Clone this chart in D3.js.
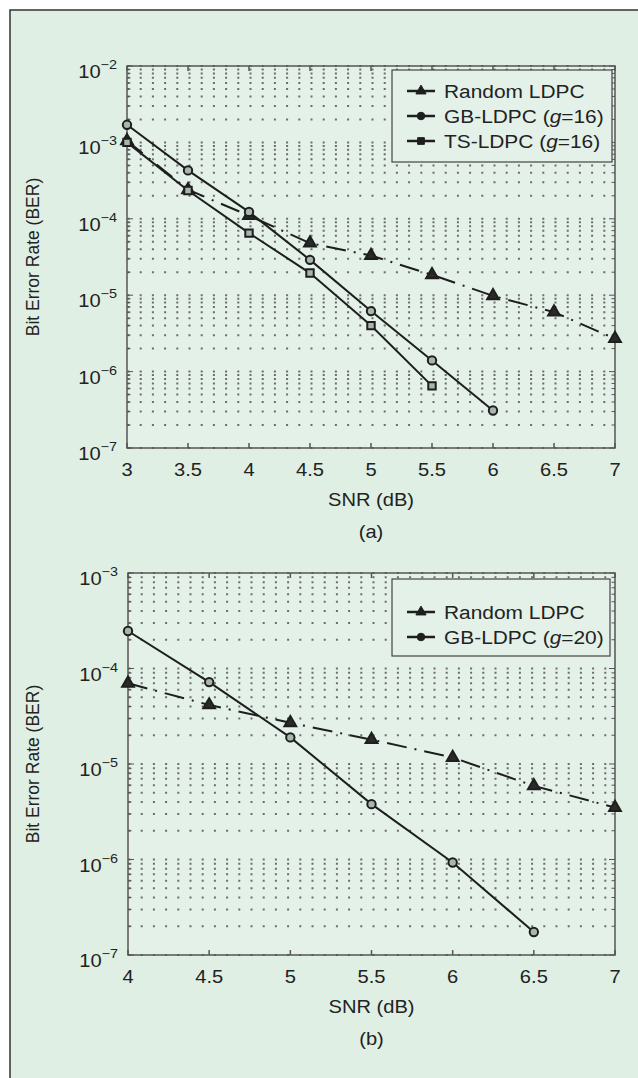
<!DOCTYPE html>
<html>
<head>
<meta charset="utf-8">
<title>BER vs SNR</title>
<script src="https://d3js.org/d3.v7.min.js"></script>
<style>
  * { margin: 0; padding: 0; }
  body { background: #fff; }
  svg { display: block; }
  text { font-family: "Liberation Sans", Arial, Helvetica, sans-serif; fill: #222; }
</style>
</head>
<body>
<div id="chart"></div>
<script>
// ---- data ----
const snrA = [3, 3.5, 4, 4.5, 5, 5.5, 6, 6.5, 7];
const randomA = [1.05e-3, 2.4e-4, 1.1e-4, 4.8e-5, 3.3e-5, 1.85e-5, 9.8e-6, 6.0e-6, 2.7e-6];
const gbA = [1.7e-3, 4.3e-4, 1.23e-4, 2.9e-5, 6.2e-6, 1.4e-6, 3.1e-7];
const tsA = [1.0e-3, 2.35e-4, 6.5e-5, 1.95e-5, 4.0e-6, 6.5e-7];

const snrB = [4, 4.5, 5, 5.5, 6, 6.5, 7];
const randomB = [7.0e-5, 4.15e-5, 2.7e-5, 1.8e-5, 1.17e-5, 5.9e-6, 3.5e-6];
const gbB = [2.47e-4, 7.2e-5, 1.9e-5, 3.8e-6, 9.3e-7, 1.74e-7];

const xTicksA = [3, 3.5, 4, 4.5, 5, 5.5, 6, 6.5, 7];
const xTicksB = [4, 4.5, 5, 5.5, 6, 6.5, 7];
const legendA = ["Random LDPC", "GB-LDPC", "TS-LDPC"];
const legendB = ["Random LDPC", "GB-LDPC"];

const W = 638, H = 1078;
const SX = 1.15; // figure text is a little wide

const svg = d3.select("#chart").append("svg")
  .attr("width", W).attr("height", H);

// outer frame
svg.append("rect").attr("x", 10).attr("y", 10)
  .attr("width", W + 50).attr("height", H + 50)
  .attr("fill", "#e0efe3").attr("stroke", "#333").attr("stroke-width", 1.5);

function wideText(g, x, y, str, size, anchor) {
  return g.append("text")
    .attr("transform", `translate(${x},${y}) scale(${SX},1)`)
    .attr("text-anchor", anchor || "middle")
    .attr("font-size", size)
    .text(str);
}

function styleFor(name) {
  if (name.startsWith("Random")) return { sym: d3.symbolTriangle, size: 60, dash: "20,8,2,8", fill: "#2a2a2a" };
  if (name.startsWith("GB")) return { sym: d3.symbolCircle, size: 55, dash: null, fill: "#a9b6ad" };
  return { sym: d3.symbolSquare, size: 55, dash: null, fill: "#a9b6ad" };
}

function panel(cfg) {
  const g = svg.append("g");
  const x = d3.scaleLinear().domain(cfg.xDomain).range([cfg.left, cfg.right]);
  const y = d3.scaleLog().domain(cfg.yDomain).range([cfg.bottom, cfg.top]);

  g.append("rect").attr("x", cfg.left).attr("y", cfg.top)
    .attr("width", cfg.right - cfg.left).attr("height", cfg.bottom - cfg.top)
    .attr("fill", "#e4f1e8");

  // dotted grid (major + minor decades)
  const yAll = y.ticks();
  g.append("g").selectAll("line").data(yAll).join("line")
    .attr("x1", cfg.left).attr("x2", cfg.right)
    .attr("y1", d => y(d)).attr("y2", d => y(d))
    .attr("stroke", "#6c6c6c").attr("stroke-width", 2)
    .attr("stroke-dasharray", "2,10.2")
    .attr("stroke-dashoffset", -0.5);

  // axes box
  const ax = g.append("g").attr("stroke", "#555").attr("stroke-width", 1.5);
  ax.append("rect").attr("x", cfg.left).attr("y", cfg.top)
    .attr("width", cfg.right - cfg.left).attr("height", cfg.bottom - cfg.top)
    .attr("fill", "none");

  // x ticks (inward, bottom + top)
  cfg.xTicks.forEach(t => {
    ax.append("line").attr("x1", x(t)).attr("x2", x(t)).attr("y1", cfg.bottom).attr("y2", cfg.bottom - 5);
    ax.append("line").attr("x1", x(t)).attr("x2", x(t)).attr("y1", cfg.top).attr("y2", cfg.top + 5);
    wideText(g, x(t), cfg.bottom + 28, String(t), 17.5);
  });

  // y ticks (inward, left + right)
  yAll.forEach(t => {
    const major = Math.abs(Math.log10(t) - Math.round(Math.log10(t))) < 1e-9;
    const len = major ? 6 : 3.5;
    ax.append("line").attr("x1", cfg.left).attr("x2", cfg.left + len).attr("y1", y(t)).attr("y2", y(t)).attr("stroke-width", 1);
    ax.append("line").attr("x1", cfg.right).attr("x2", cfg.right - len).attr("y1", y(t)).attr("y2", y(t)).attr("stroke-width", 1);
    if (major) {
      const e = Math.round(Math.log10(t));
      const tx = g.append("text")
        .attr("transform", `translate(${cfg.left - 10},${y(t) + 12}) scale(${SX},1)`)
        .attr("text-anchor", "end").attr("font-size", 17.5);
      tx.append("tspan").text("10");
      tx.append("tspan").attr("dy", -9).attr("font-size", 12.5).text("\u2212" + Math.abs(e));
    }
  });

  // axis titles
  const cy = (cfg.top + cfg.bottom) / 2, cx = (cfg.left + cfg.right) / 2;
  g.append("text").attr("transform", `translate(39,${cy}) rotate(-90)`)
    .attr("text-anchor", "middle").attr("font-size", 17.5).text("Bit Error Rate (BER)");
  wideText(g, cx, cfg.bottom + 58, "SNR (dB)", 17.5);
  wideText(g, cx, cfg.bottom + 90, cfg.caption, 17.5);

  // series
  const line = d3.line().x(d => x(d[0])).y(d => y(d[1]));
  cfg.series.forEach(s => {
    const st = styleFor(s.name);
    const pts = s.values.map((v, i) => [cfg.snr[i], v]);
    g.append("path").datum(pts).attr("d", line)
      .attr("fill", "none").attr("stroke", "#1e1e1e").attr("stroke-width", 2)
      .attr("stroke-dasharray", st.dash);
    g.append("g").selectAll("path").data(pts).join("path")
      .attr("transform", d => `translate(${x(d[0])},${y(d[1])})`)
      .attr("d", d3.symbol().type(st.sym).size(st.size))
      .attr("fill", st.fill).attr("stroke", "#1e1e1e").attr("stroke-width", 2);
  });

  // legend
  const L = cfg.legend;
  g.append("rect").attr("x", L.x0).attr("y", L.y0)
    .attr("width", L.x1 - L.x0).attr("height", L.y1 - L.y0)
    .attr("fill", "#e4f1e8").attr("stroke", "#444").attr("stroke-width", 1.2);
  cfg.series.forEach((s, i) => {
    const st = styleFor(s.name);
    const ry = L.row0 + i * 25;
    g.append("line").attr("x1", L.x0 + 15).attr("x2", L.x0 + 43).attr("y1", ry).attr("y2", ry)
      .attr("stroke", "#1e1e1e").attr("stroke-width", 2.5);
    g.append("path").attr("transform", `translate(${L.x0 + 29},${ry})`)
      .attr("d", d3.symbol().type(st.sym).size(45))
      .attr("fill", "#1e1e1e").attr("stroke", "#1e1e1e").attr("stroke-width", 1);
    const t = g.append("text")
      .attr("transform", `translate(${L.x0 + 52},${ry + 7}) scale(1.1,1)`)
      .attr("font-size", 19);
    t.append("tspan").text(s.name);
    if (s.g) {
      t.append("tspan").text(" (");
      t.append("tspan").attr("font-style", "italic").text("g");
      t.append("tspan").text("=" + s.g + ")");
    }
  });
}

panel({
  left: 127, right: 615, top: 66, bottom: 448,
  xDomain: [3, 7], yDomain: [1e-7, 1e-2], xTicks: xTicksA, snr: snrA,
  caption: "(a)",
  series: [
    { name: legendA[0], values: randomA },
    { name: legendA[1], values: gbA, g: 16 },
    { name: legendA[2], values: tsA, g: 16 }
  ],
  legend: { x0: 392, x1: 612, y0: 70, y1: 162, row0: 91 }
});

panel({
  left: 128, right: 615, top: 573, bottom: 955,
  xDomain: [4, 7], yDomain: [1e-7, 1e-3], xTicks: xTicksB, snr: snrB,
  caption: "(b)",
  series: [
    { name: legendB[0], values: randomB },
    { name: legendB[1], values: gbB, g: 20 }
  ],
  legend: { x0: 392, x1: 610, y0: 579, y1: 656, row0: 612 }
});
</script>
</body>
</html>
